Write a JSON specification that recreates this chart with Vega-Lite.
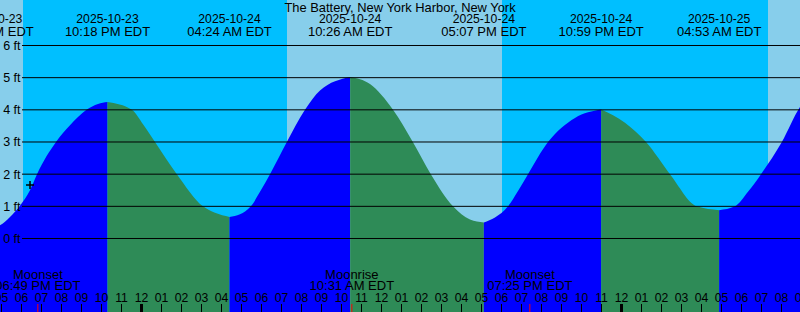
{
  "$schema": "https://vega.github.io/schema/vega-lite/v6.json",
  "width": 800,
  "height": 312,
  "autosize": {"type": "fit", "contains": "padding"},
  "padding": 0,
  "background": "#87ceeb",
  "config": {"view": {"stroke": null}},
  "datasets": {
    "sky": [
      {"start": "2025-10-23T12:00:00Z", "end": "2025-10-23T18:04:30Z", "kind": "day"},
      {"start": "2025-10-23T18:04:30Z", "end": "2025-10-24T07:16:30Z", "kind": "night"},
      {"start": "2025-10-24T07:16:30Z", "end": "2025-10-24T18:01:30Z", "kind": "day"},
      {"start": "2025-10-24T18:01:30Z", "end": "2025-10-25T07:19:30Z", "kind": "night"},
      {"start": "2025-10-25T07:19:30Z", "end": "2025-10-25T12:00:00Z", "kind": "day"}
    ],
    "tide": [
      {"t": "2025-10-23T16:29:00Z", "v": 0.33, "seg": 0, "dir": "rising"},
      {"t": "2025-10-23T16:55:30Z", "v": 0.41, "seg": 0, "dir": "rising"},
      {"t": "2025-10-23T17:25:30Z", "v": 0.67, "seg": 0, "dir": "rising"},
      {"t": "2025-10-23T17:55:30Z", "v": 1.02, "seg": 0, "dir": "rising"},
      {"t": "2025-10-23T18:25:30Z", "v": 1.5, "seg": 0, "dir": "rising"},
      {"t": "2025-10-23T18:46:30Z", "v": 2.0, "seg": 0, "dir": "rising"},
      {"t": "2025-10-23T19:43:30Z", "v": 3.0, "seg": 0, "dir": "rising"},
      {"t": "2025-10-23T20:25:30Z", "v": 3.52, "seg": 0, "dir": "rising"},
      {"t": "2025-10-23T21:15:00Z", "v": 4.0, "seg": 0, "dir": "rising"},
      {"t": "2025-10-23T21:49:30Z", "v": 4.18, "seg": 0, "dir": "rising"},
      {"t": "2025-10-23T22:18:00Z", "v": 4.24, "seg": 0, "dir": "rising"},
      {"t": "2025-10-23T22:18:00Z", "v": 4.24, "seg": 1, "dir": "falling"},
      {"t": "2025-10-23T23:31:00Z", "v": 4.0, "seg": 1, "dir": "falling"},
      {"t": "2025-10-24T00:04:30Z", "v": 3.55, "seg": 1, "dir": "falling"},
      {"t": "2025-10-24T00:40:30Z", "v": 3.0, "seg": 1, "dir": "falling"},
      {"t": "2025-10-24T01:46:00Z", "v": 2.0, "seg": 1, "dir": "falling"},
      {"t": "2025-10-24T03:04:30Z", "v": 1.0, "seg": 1, "dir": "falling"},
      {"t": "2025-10-24T03:40:30Z", "v": 0.8, "seg": 1, "dir": "falling"},
      {"t": "2025-10-24T04:24:00Z", "v": 0.67, "seg": 1, "dir": "falling"},
      {"t": "2025-10-24T04:24:00Z", "v": 0.67, "seg": 2, "dir": "rising"},
      {"t": "2025-10-24T04:55:30Z", "v": 0.75, "seg": 2, "dir": "rising"},
      {"t": "2025-10-24T05:28:00Z", "v": 1.0, "seg": 2, "dir": "rising"},
      {"t": "2025-10-24T05:55:30Z", "v": 1.45, "seg": 2, "dir": "rising"},
      {"t": "2025-10-24T06:25:30Z", "v": 2.0, "seg": 2, "dir": "rising"},
      {"t": "2025-10-24T07:16:00Z", "v": 3.0, "seg": 2, "dir": "rising"},
      {"t": "2025-10-24T08:10:30Z", "v": 4.0, "seg": 2, "dir": "rising"},
      {"t": "2025-10-24T08:55:30Z", "v": 4.6, "seg": 2, "dir": "rising"},
      {"t": "2025-10-24T10:26:00Z", "v": 5.02, "seg": 2, "dir": "rising"},
      {"t": "2025-10-24T10:26:00Z", "v": 5.02, "seg": 3, "dir": "falling"},
      {"t": "2025-10-24T11:25:30Z", "v": 4.8, "seg": 3, "dir": "falling"},
      {"t": "2025-10-24T12:34:30Z", "v": 4.0, "seg": 3, "dir": "falling"},
      {"t": "2025-10-24T13:34:00Z", "v": 3.0, "seg": 3, "dir": "falling"},
      {"t": "2025-10-24T14:28:00Z", "v": 2.0, "seg": 3, "dir": "falling"},
      {"t": "2025-10-24T15:34:30Z", "v": 1.0, "seg": 3, "dir": "falling"},
      {"t": "2025-10-24T16:25:30Z", "v": 0.59, "seg": 3, "dir": "falling"},
      {"t": "2025-10-24T17:07:00Z", "v": 0.5, "seg": 3, "dir": "falling"},
      {"t": "2025-10-24T17:07:00Z", "v": 0.5, "seg": 4, "dir": "rising"},
      {"t": "2025-10-24T17:40:30Z", "v": 0.65, "seg": 4, "dir": "rising"},
      {"t": "2025-10-24T18:19:30Z", "v": 1.0, "seg": 4, "dir": "rising"},
      {"t": "2025-10-24T18:49:30Z", "v": 1.48, "seg": 4, "dir": "rising"},
      {"t": "2025-10-24T19:19:30Z", "v": 2.0, "seg": 4, "dir": "rising"},
      {"t": "2025-10-24T20:19:30Z", "v": 3.0, "seg": 4, "dir": "rising"},
      {"t": "2025-10-24T21:40:30Z", "v": 3.75, "seg": 4, "dir": "rising"},
      {"t": "2025-10-24T22:59:00Z", "v": 4.01, "seg": 4, "dir": "rising"},
      {"t": "2025-10-24T22:59:00Z", "v": 4.01, "seg": 5, "dir": "falling"},
      {"t": "2025-10-25T00:10:30Z", "v": 3.6, "seg": 5, "dir": "falling"},
      {"t": "2025-10-25T01:13:30Z", "v": 3.0, "seg": 5, "dir": "falling"},
      {"t": "2025-10-25T02:25:30Z", "v": 2.0, "seg": 5, "dir": "falling"},
      {"t": "2025-10-25T03:46:00Z", "v": 1.0, "seg": 5, "dir": "falling"},
      {"t": "2025-10-25T04:53:00Z", "v": 0.88, "seg": 5, "dir": "falling"},
      {"t": "2025-10-25T04:53:00Z", "v": 0.88, "seg": 6, "dir": "rising"},
      {"t": "2025-10-25T05:40:30Z", "v": 1.0, "seg": 6, "dir": "rising"},
      {"t": "2025-10-25T06:19:30Z", "v": 1.45, "seg": 6, "dir": "rising"},
      {"t": "2025-10-25T06:58:30Z", "v": 2.0, "seg": 6, "dir": "rising"},
      {"t": "2025-10-25T08:01:00Z", "v": 3.0, "seg": 6, "dir": "rising"},
      {"t": "2025-10-25T08:55:30Z", "v": 4.09, "seg": 6, "dir": "rising"},
      {"t": "2025-10-25T09:55:30Z", "v": 4.7, "seg": 6, "dir": "rising"},
      {"t": "2025-10-25T11:42:00Z", "v": 5.1, "seg": 6, "dir": "rising"}
    ],
    "grid": [
      {"v": 0, "lab": "0 ft"}, {"v": 1, "lab": "1 ft"}, {"v": 2, "lab": "2 ft"},
      {"v": 3, "lab": "3 ft"}, {"v": 4, "lab": "4 ft"}, {"v": 5, "lab": "5 ft"},
      {"v": 6, "lab": "6 ft"}
    ],
    "events": [
      {"t": "2025-10-23T16:29:00Z", "date": "2025-10-23", "time": "04:29 PM EDT"},
      {"t": "2025-10-23T22:18:00Z", "date": "2025-10-23", "time": "10:18 PM EDT"},
      {"t": "2025-10-24T04:24:00Z", "date": "2025-10-24", "time": "04:24 AM EDT"},
      {"t": "2025-10-24T10:26:00Z", "date": "2025-10-24", "time": "10:26 AM EDT"},
      {"t": "2025-10-24T17:07:00Z", "date": "2025-10-24", "time": "05:07 PM EDT"},
      {"t": "2025-10-24T22:59:00Z", "date": "2025-10-24", "time": "10:59 PM EDT"},
      {"t": "2025-10-25T04:53:00Z", "date": "2025-10-25", "time": "04:53 AM EDT"}
    ],
    "moon": [
      {"t": "2025-10-23T18:49:00Z", "name": "Moonset", "time": "06:49 PM EDT"},
      {"t": "2025-10-24T10:31:00Z", "name": "Moonrise", "time": "10:31 AM EDT"},
      {"t": "2025-10-24T19:25:00Z", "name": "Moonset", "time": "07:25 PM EDT"}
    ],
    "hours": [
      {"t": "2025-10-23T17:00:00Z", "lab": "05"}, {"t": "2025-10-23T18:00:00Z", "lab": "06"},
      {"t": "2025-10-23T19:00:00Z", "lab": "07"}, {"t": "2025-10-23T20:00:00Z", "lab": "08"},
      {"t": "2025-10-23T21:00:00Z", "lab": "09"}, {"t": "2025-10-23T22:00:00Z", "lab": "10"},
      {"t": "2025-10-23T23:00:00Z", "lab": "11"}, {"t": "2025-10-24T00:00:00Z", "lab": "12"},
      {"t": "2025-10-24T01:00:00Z", "lab": "01"}, {"t": "2025-10-24T02:00:00Z", "lab": "02"},
      {"t": "2025-10-24T03:00:00Z", "lab": "03"}, {"t": "2025-10-24T04:00:00Z", "lab": "04"},
      {"t": "2025-10-24T05:00:00Z", "lab": "05"}, {"t": "2025-10-24T06:00:00Z", "lab": "06"},
      {"t": "2025-10-24T07:00:00Z", "lab": "07"}, {"t": "2025-10-24T08:00:00Z", "lab": "08"},
      {"t": "2025-10-24T09:00:00Z", "lab": "09"}, {"t": "2025-10-24T10:00:00Z", "lab": "10"},
      {"t": "2025-10-24T11:00:00Z", "lab": "11"}, {"t": "2025-10-24T12:00:00Z", "lab": "12"},
      {"t": "2025-10-24T13:00:00Z", "lab": "01"}, {"t": "2025-10-24T14:00:00Z", "lab": "02"},
      {"t": "2025-10-24T15:00:00Z", "lab": "03"}, {"t": "2025-10-24T16:00:00Z", "lab": "04"},
      {"t": "2025-10-24T17:00:00Z", "lab": "05"}, {"t": "2025-10-24T18:00:00Z", "lab": "06"},
      {"t": "2025-10-24T19:00:00Z", "lab": "07"}, {"t": "2025-10-24T20:00:00Z", "lab": "08"},
      {"t": "2025-10-24T21:00:00Z", "lab": "09"}, {"t": "2025-10-24T22:00:00Z", "lab": "10"},
      {"t": "2025-10-24T23:00:00Z", "lab": "11"}, {"t": "2025-10-25T00:00:00Z", "lab": "12"},
      {"t": "2025-10-25T01:00:00Z", "lab": "01"}, {"t": "2025-10-25T02:00:00Z", "lab": "02"},
      {"t": "2025-10-25T03:00:00Z", "lab": "03"}, {"t": "2025-10-25T04:00:00Z", "lab": "04"},
      {"t": "2025-10-25T05:00:00Z", "lab": "05"}, {"t": "2025-10-25T06:00:00Z", "lab": "06"},
      {"t": "2025-10-25T07:00:00Z", "lab": "07"}, {"t": "2025-10-25T08:00:00Z", "lab": "08"},
      {"t": "2025-10-25T09:00:00Z", "lab": "09"}
    ],
    "midnights": [
      {"t": "2025-10-24T00:00:00Z"}, {"t": "2025-10-25T00:00:00Z"}
    ],
    "now": [
      {"t": "2025-10-23T18:25:30Z", "v": 1.66}
    ],
    "title": [
      {"t": "2025-10-24T12:55:30Z", "text": "The Battery, New York Harbor, New York"}
    ]
  },
  "layer": [
    {
      "data": {"name": "sky"},
      "mark": {"type": "rect", "clip": true},
      "encoding": {
        "x": {"field": "start", "type": "temporal", "axis": null,
              "scale": {"type": "utc", "domain": [{"year": 2025, "month": 10, "date": 23, "hours": 16, "minutes": 55, "seconds": 30, "utc": true}, {"year": 2025, "month": 10, "date": 25, "hours": 8, "minutes": 55, "seconds": 30, "utc": true}]}},
        "x2": {"field": "end"},
        "color": {"field": "kind", "type": "nominal", "legend": null,
                  "scale": {"domain": ["day", "night", "rising", "falling"], "range": ["#87ceeb", "#00bfff", "#0000ff", "#2e8b57"]}}
      }
    },
    {
      "data": {"name": "tide"},
      "mark": {"type": "area", "interpolate": "monotone", "clip": true, "opacity": 1},
      "encoding": {
        "x": {"field": "t", "type": "temporal", "axis": null,
              "scale": {"type": "utc", "domain": [{"year": 2025, "month": 10, "date": 23, "hours": 16, "minutes": 55, "seconds": 30, "utc": true}, {"year": 2025, "month": 10, "date": 25, "hours": 8, "minutes": 55, "seconds": 30, "utc": true}]}},
        "y": {"field": "v", "type": "quantitative", "axis": null, "stack": null,
              "scale": {"domain": [-2.285, 7.4145], "nice": false, "zero": false}},
        "y2": {"datum": -2.4},
        "detail": {"field": "seg", "type": "nominal"},
        "color": {"field": "dir", "type": "nominal", "legend": null,
                  "scale": {"domain": ["day", "night", "rising", "falling"], "range": ["#87ceeb", "#00bfff", "#0000ff", "#2e8b57"]}}
      }
    },
    {
      "data": {"name": "grid"},
      "mark": {"type": "rule", "color": "#000000", "strokeWidth": 1, "clip": true},
      "encoding": {
        "x": {"datum": {"year": 2025, "month": 10, "date": 23, "hours": 18, "minutes": 1, "seconds": 30, "utc": true}, "type": "temporal"},
        "x2": {"datum": {"year": 2025, "month": 10, "date": 25, "hours": 12, "utc": true}},
        "y": {"field": "v", "type": "quantitative"}
      }
    },
    {
      "data": {"name": "grid"},
      "mark": {"type": "text", "align": "right", "baseline": "alphabetic", "dy": 4.5, "font": "Liberation Sans", "fontSize": 12.5, "color": "#000000"},
      "encoding": {
        "x": {"datum": {"year": 2025, "month": 10, "date": 23, "hours": 17, "minutes": 57, "utc": true}, "type": "temporal"},
        "y": {"field": "v", "type": "quantitative"},
        "text": {"field": "lab"}
      }
    },
    {
      "data": {"name": "events"},
      "mark": {"type": "text", "align": "center", "baseline": "alphabetic", "font": "Liberation Sans", "fontSize": 12.2, "color": "#000000", "clip": true},
      "encoding": {
        "x": {"field": "t", "type": "temporal"},
        "y": {"datum": 6.684, "type": "quantitative"},
        "text": {"field": "date"}
      }
    },
    {
      "data": {"name": "events"},
      "mark": {"type": "text", "align": "center", "baseline": "alphabetic", "font": "Liberation Sans", "fontSize": 13, "color": "#000000", "clip": true},
      "encoding": {
        "x": {"field": "t", "type": "temporal"},
        "y": {"datum": 6.295, "type": "quantitative"},
        "text": {"field": "time"}
      }
    },
    {
      "data": {"name": "title"},
      "mark": {"type": "text", "align": "center", "baseline": "alphabetic", "font": "Liberation Sans", "fontSize": 12.9, "color": "#000000"},
      "encoding": {
        "x": {"field": "t", "type": "temporal"},
        "y": {"datum": 7.041, "type": "quantitative"},
        "text": {"field": "text"}
      }
    },
    {
      "data": {"name": "moon"},
      "mark": {"type": "text", "align": "center", "baseline": "alphabetic", "font": "Liberation Sans", "fontSize": 13, "color": "#000000", "clip": true},
      "encoding": {
        "x": {"field": "t", "type": "temporal"},
        "y": {"datum": -1.259, "type": "quantitative"},
        "text": {"field": "name"}
      }
    },
    {
      "data": {"name": "moon"},
      "mark": {"type": "text", "align": "center", "baseline": "alphabetic", "font": "Liberation Sans", "fontSize": 13, "color": "#000000", "clip": true},
      "encoding": {
        "x": {"field": "t", "type": "temporal"},
        "y": {"datum": -1.601, "type": "quantitative"},
        "text": {"field": "time"}
      }
    },
    {
      "data": {"name": "hours"},
      "mark": {"type": "text", "align": "center", "baseline": "alphabetic", "font": "Liberation Sans", "fontSize": 12.2, "color": "#000000", "clip": true},
      "encoding": {
        "x": {"field": "t", "type": "temporal"},
        "y": {"datum": -1.974, "type": "quantitative"},
        "text": {"field": "lab"}
      }
    },
    {
      "data": {"name": "hours"},
      "mark": {"type": "rule", "color": "#000000", "strokeWidth": 1, "clip": true},
      "encoding": {
        "x": {"field": "t", "type": "temporal"},
        "y": {"datum": -2.036, "type": "quantitative"},
        "y2": {"datum": -2.4}
      }
    },
    {
      "data": {"name": "midnights"},
      "mark": {"type": "rule", "color": "#000000", "strokeWidth": 3, "clip": true},
      "encoding": {
        "x": {"field": "t", "type": "temporal"},
        "y": {"datum": -2.036, "type": "quantitative"},
        "y2": {"datum": -2.4}
      }
    },
    {
      "data": {"name": "moon"},
      "mark": {"type": "rule", "color": "#ff0000", "strokeWidth": 1, "clip": true},
      "encoding": {
        "x": {"field": "t", "type": "temporal"},
        "y": {"datum": -2.036, "type": "quantitative"},
        "y2": {"datum": -2.4}
      }
    },
    {
      "data": {"name": "now"},
      "mark": {"type": "point", "shape": "M-1,0L1,0M0,-1L0,1", "size": 64, "filled": false, "stroke": "#000000", "strokeWidth": 1.5, "opacity": 1},
      "encoding": {
        "x": {"field": "t", "type": "temporal"},
        "y": {"field": "v", "type": "quantitative"}
      }
    }
  ]
}
